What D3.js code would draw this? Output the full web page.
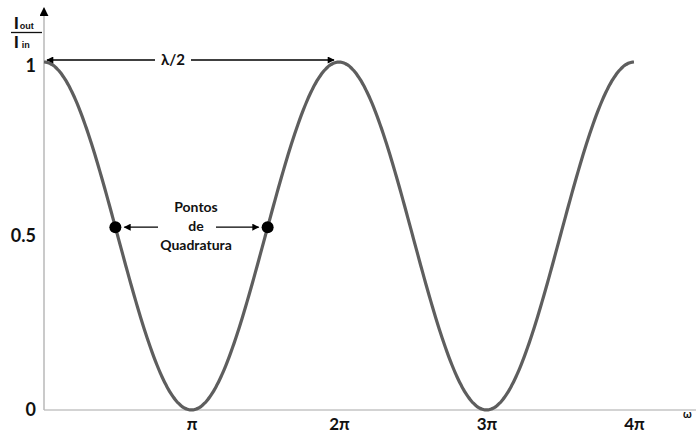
<!DOCTYPE html>
<html>
<head>
<meta charset="utf-8">
<script src="https://cdn.jsdelivr.net/npm/d3@7"></script>
<style>
  html, body { margin: 0; padding: 0; background: #fff; }
  svg { display: block; }
  text { font-family: Lato, "Open Sans", sans-serif; font-weight: bold; fill: #111; }
</style>
</head>
<body>
<svg id="chart" width="696" height="435"></svg>
<script>
// Phase ticks along the x axis (multiples of π) and their labels
const xTickValues = [Math.PI, 2 * Math.PI, 3 * Math.PI, 4 * Math.PI];
const xTickLabels = ["π", "2π", "3π", "4π"];
// Normalised intensity ticks
const yTickValues = [0, 0.5, 1];
const yTickLabels = ["0", "0.5", "1"];
// Phase samples of the transfer curve I_out/I_in = (1 + cos φ) / 2
const phaseSamples = d3.range(0, 4 * Math.PI + 1e-9, Math.PI / 90);
const intensity = phaseSamples.map(p => (1 + Math.cos(p)) / 2);
// Quadrature operating points (phase, intensity)
const quadPhase = [1.52, 2 * Math.PI - 1.52];
const quadIntensity = quadPhase.map(p => (1 + Math.cos(p)) / 2);

const svg = d3.select("#chart");
const x = d3.scaleLinear().domain([0, 4 * Math.PI]).range([44, 634]);
const y = d3.scaleLinear().domain([0, 1]).range([410, 62]);

// arrow markers
const defs = svg.append("defs");
function marker(id, color, w, h) {
  defs.append("marker")
    .attr("id", id).attr("viewBox", "0 0 10 10")
    .attr("refX", 9).attr("refY", 5)
    .attr("markerWidth", w).attr("markerHeight", h)
    .attr("markerUnits", "userSpaceOnUse")
    .attr("orient", "auto-start-reverse")
    .append("path").attr("d", "M0,0 L10,5 L0,10 Z").attr("fill", color);
}
marker("arr", "#000", 9, 7);
marker("axarr", "#000", 9, 9);

// x axis (plain line, labels below)
svg.append("line")
  .attr("x1", x(0)).attr("x2", 696)
  .attr("y1", y(0)).attr("y2", y(0))
  .attr("stroke", "#c4c4c4").attr("stroke-width", 1.5);

// y axis with arrow on top
svg.append("line")
  .attr("x1", x(0)).attr("x2", x(0))
  .attr("y1", y(0)).attr("y2", 8)
  .attr("stroke", "#b8b8b8").attr("stroke-width", 1.5)
  .attr("marker-end", "url(#axarr)");

const xAxis = d3.axisBottom(x).tickValues(xTickValues)
  .tickFormat((d, i) => xTickLabels[i]).tickSize(0).tickPadding(8);
const gx = svg.append("g").attr("transform", `translate(0,${y(0)})`).call(xAxis);
gx.select(".domain").remove();
gx.selectAll("text").attr("font-size", 17).attr("font-family", "Lato, sans-serif")
  .attr("font-weight", "bold").attr("fill", "#111");

const yAxis = d3.axisLeft(y).tickValues(yTickValues)
  .tickFormat((d, i) => yTickLabels[i]).tickSize(0).tickPadding(8);
const gy = svg.append("g").attr("transform", `translate(${x(0)},0)`).call(yAxis);
gy.select(".domain").remove();
gy.selectAll("text").attr("font-size", 18).attr("font-family", "Lato, sans-serif")
  .attr("font-weight", "bold").attr("fill", "#111")
  .attr("transform", d => d === 1 ? "translate(0,4)" : null);

// ω at the end of the x axis
svg.append("text").attr("x", 683).attr("y", 418)
  .attr("font-size", 11).attr("font-weight", "normal").attr("fill", "#6a5a20").text("ω");

// transfer curve
const line = d3.line().x((d, i) => x(phaseSamples[i])).y(d => y(d)).curve(d3.curveBasis);
svg.append("path").datum(intensity)
  .attr("d", line).attr("fill", "none")
  .attr("stroke", "#5e5e5e").attr("stroke-width", 3.2);

// y label: I_out / I_in
const yl = svg.append("g").style("font-family", "'Liberation Sans', Arial, sans-serif");
const t1 = yl.append("text").attr("x", 14).attr("y", 28.5).attr("font-size", 17)
  .style("font-family", "'Liberation Sans', Arial, sans-serif");
t1.append("tspan").text("I");
t1.append("tspan").attr("font-size", 9).attr("dx", 1).text("out");
yl.append("line").attr("x1", 11).attr("x2", 42).attr("y1", 32.5).attr("y2", 32.5)
  .attr("stroke", "#111").attr("stroke-width", 1.3);
const t2 = yl.append("text").attr("x", 14).attr("y", 48).attr("font-size", 17)
  .style("font-family", "'Liberation Sans', Arial, sans-serif");
t2.append("tspan").text("I");
t2.append("tspan").attr("font-size", 9).attr("dx", 3).text("in");

// λ/2 span between the two maxima
const spanY = y(1) - 2;
svg.append("line").attr("x1", 155).attr("x2", x(0) + 3).attr("y1", spanY).attr("y2", spanY)
  .attr("stroke", "#000").attr("stroke-width", 1.3).attr("marker-end", "url(#arr)");
svg.append("line").attr("x1", 191).attr("x2", x(2 * Math.PI) - 5).attr("y1", spanY).attr("y2", spanY)
  .attr("stroke", "#000").attr("stroke-width", 1.3).attr("marker-end", "url(#arr)");
svg.append("text").attr("x", 173).attr("y", spanY + 5).attr("text-anchor", "middle")
  .attr("font-size", 15).text("λ/2");

// quadrature points
svg.selectAll("circle.q").data(quadPhase).enter().append("circle")
  .attr("cx", d => x(d)).attr("cy", (d, i) => y(quadIntensity[i]))
  .attr("r", 6).attr("fill", "#000");

const qy = y(quadIntensity[0]);
svg.append("line").attr("x1", 158).attr("x2", x(quadPhase[0]) + 9).attr("y1", qy).attr("y2", qy)
  .attr("stroke", "#000").attr("stroke-width", 1.3).attr("marker-end", "url(#arr)");
svg.append("line").attr("x1", 216).attr("x2", x(quadPhase[1]) - 9).attr("y1", qy).attr("y2", qy)
  .attr("stroke", "#000").attr("stroke-width", 1.3).attr("marker-end", "url(#arr)");
const qText = ["Pontos", "de", "Quadratura"];
svg.selectAll("text.q").data(qText).enter().append("text")
  .attr("x", 196).attr("y", (d, i) => qy - 15 + i * 19)
  .attr("text-anchor", "middle").attr("font-size", 14).text(d => d);
</script>
</body>
</html>
